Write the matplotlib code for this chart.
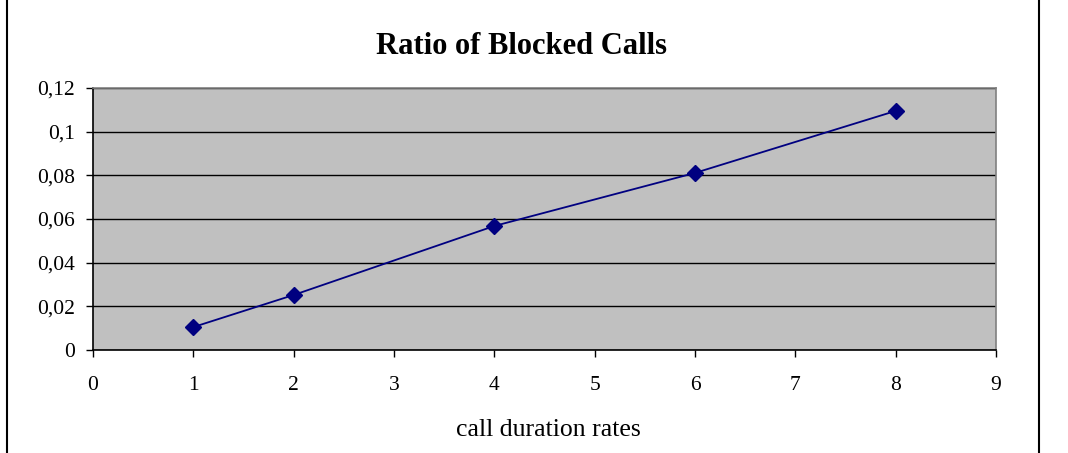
import matplotlib
matplotlib.use("Agg")
import matplotlib.pyplot as plt
from matplotlib.lines import Line2D

plt.rcParams['font.family'] = ['Liberation Serif', 'DejaVu Serif']

rates = [1, 2, 4, 6, 8]
blocked = [0.0105, 0.0252, 0.0568, 0.0811, 0.1095]
x_ticks = list(range(0, 10))
y_ticks = [0, 0.02, 0.04, 0.06, 0.08, 0.1, 0.12]
y_labels = ['0', '0,02', '0,04', '0,06', '0,08', '0,1', '0,12']

fig = plt.figure(figsize=(10.68, 4.53), dpi=100)
ax = fig.add_axes([93/1068, 1-350/453, (996-93)/1068, (350-88)/453])
ax.set_facecolor('#c0c0c0')

ax.plot(rates, blocked, color='#000080', lw=1.3, marker='D', ms=8,
        markerfacecolor='#000080', markeredgecolor='#000080', zorder=3)

ax.set_xlim(0, 9)
ax.set_ylim(0, 0.12)
ax.set_xticks(x_ticks)
ax.set_yticks(y_ticks)
ax.set_yticklabels(y_labels)
ax.grid(axis='y', color='black', lw=1.0)
ax.set_axisbelow(True)
ax.tick_params(axis='both', direction='out', length=5, width=1, labelsize=15.5, colors='black')
ax.tick_params(axis='y', pad=8)
ax.tick_params(axis='x', pad=14)
for s in ['left', 'bottom']:
    ax.spines[s].set_color('black')
    ax.spines[s].set_linewidth(1.2)
for s in ['top', 'right']:
    ax.spines[s].set_color('#808080')
    ax.spines[s].set_linewidth(1.2)

fig.text(521/1068, 1-46/453, 'Ratio of Blocked Calls', ha='center', va='center',
         fontsize=22, fontweight='bold')
fig.text(548/1068, 1-430/453, 'call duration rates', ha='center', va='center', fontsize=18.5)

fig.add_artist(Line2D([6.5/1068, 6.5/1068], [0, 1], transform=fig.transFigure, color='black', lw=1.5))
fig.add_artist(Line2D([1038.5/1068, 1038.5/1068], [0, 1], transform=fig.transFigure, color='black', lw=1.5))

fig.savefig('out.png', dpi=100)
